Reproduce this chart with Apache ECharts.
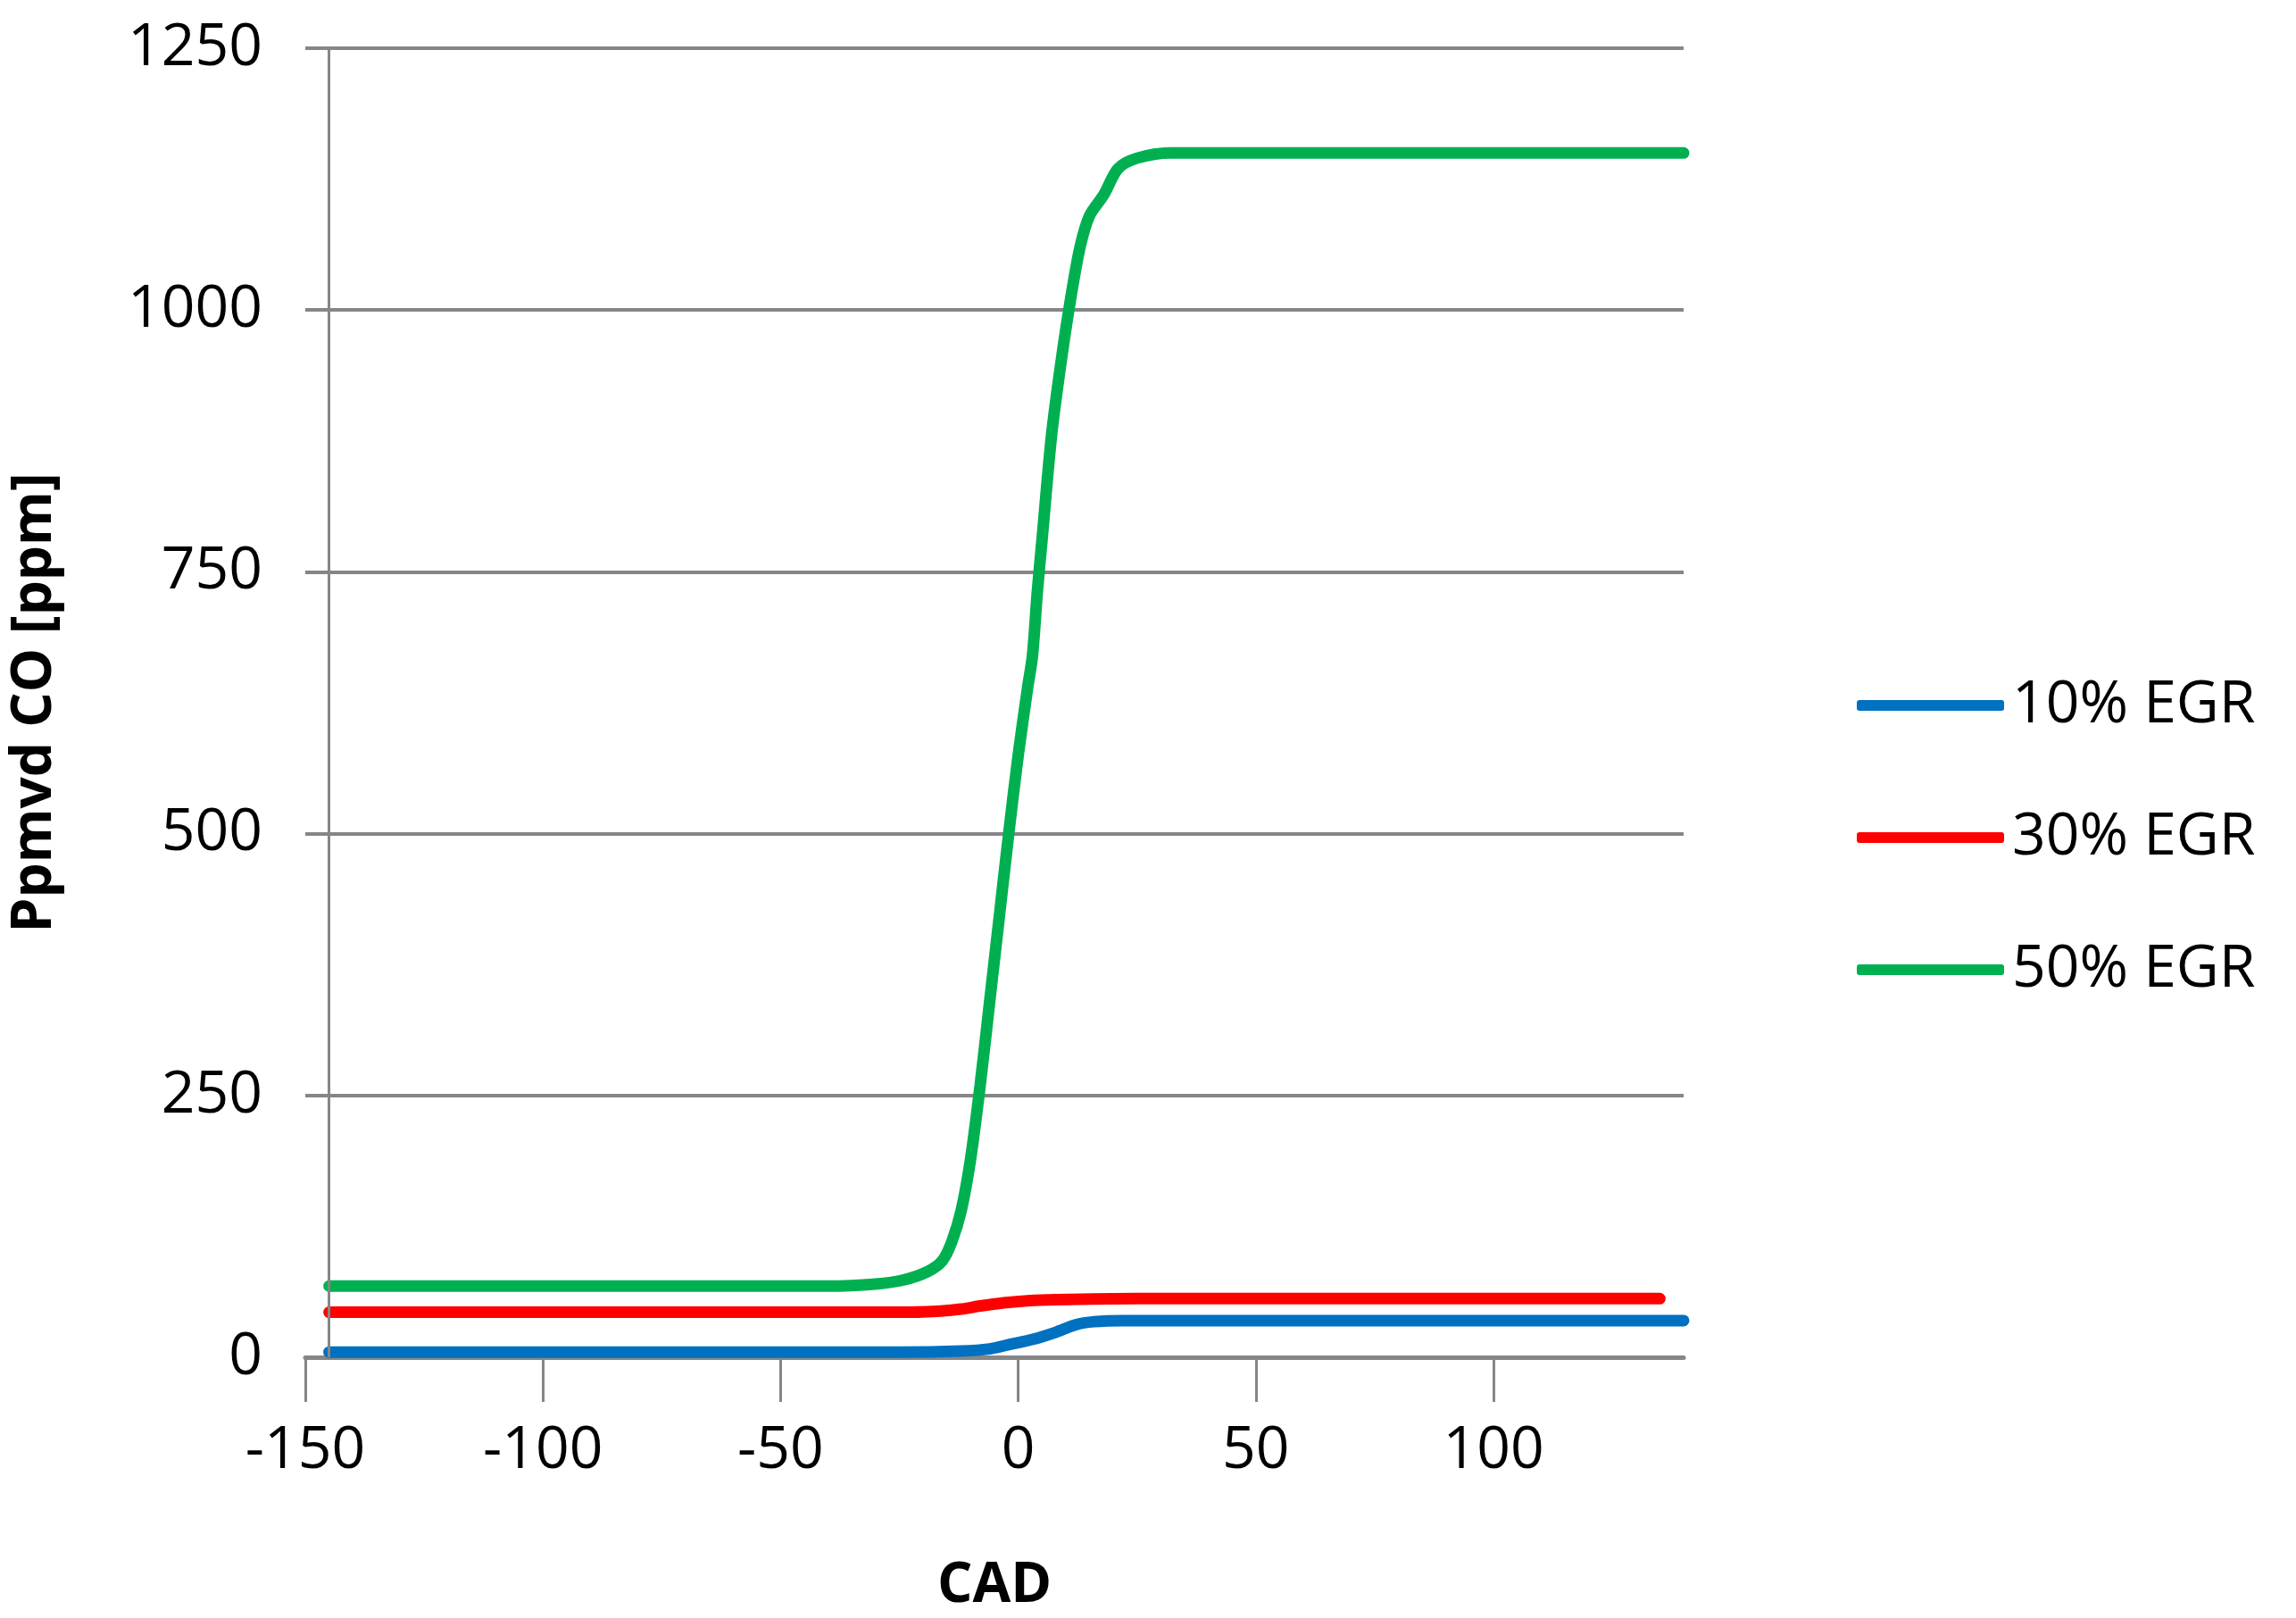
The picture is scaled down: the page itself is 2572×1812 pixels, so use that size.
<!DOCTYPE html>
<html>
<head>
<meta charset="utf-8">
<script src="https://cdn.jsdelivr.net/npm/echarts@6/dist/echarts.min.js"></script>
<style>
  html, body { margin: 0; padding: 0; background: #fff; }
  #chart { width: 2572px; height: 1812px; }
</style>
</head>
<body>
<div id="chart"></div>
<script>
// 数据
var seriesNames = ['10% EGR', '30% EGR', '50% EGR'];
var colors = ['#0070c0', '#ff0000', '#00b050'];
var blueData = [[-145, 5], [-60, 5], [-25, 5], [-12, 6], [-6, 8], [-2, 12], [3, 17], [8, 24], [12, 31], [16, 34], [22, 35], [60, 35], [140, 35]];
var redData = [[-145, 43], [-60, 43], [-25, 43], [-17, 44], [-12, 46], [-8, 49], [-3, 52], [2, 54], [8, 55], [25, 56], [80, 56], [135, 56]];
var greenData = [[-145, 68], [-80, 68], [-40, 68], [-30, 70], [-24, 74], [-19, 82], [-16, 92], [-14, 110], [-12, 140], [-10, 190], [-8, 260], [-6, 340], [-4, 420], [-2, 500], [0, 575], [2, 640], [3, 670], [4, 730], [5, 780], [7, 880], [9, 950], [11, 1010], [13, 1060], [15, 1090], [18, 1110], [21, 1135], [25, 1145], [32, 1150], [60, 1150], [140, 1150]];

(function () {
  var myChart = echarts.init(document.getElementById('chart'));
  var font = 'Open Sans';
  var gray = '#868686';
  var allData = [blueData, redData, greenData];
  var series = allData.map(function (d, i) {
    return {
      name: seriesNames[i],
      type: 'line',
      data: d,
      smooth: 0.3,
      showSymbol: false,
      lineStyle: { width: 13, color: colors[i], cap: 'round' },
      itemStyle: { color: colors[i] }
    };
  });
  // 纵轴竖线 (x = -145)
  series[0].markLine = {
    silent: true,
    symbol: 'none',
    label: { show: false },
    lineStyle: { color: gray, width: 3, type: 'solid' },
    data: [[{ coord: [-145, 0] }, { coord: [-145, 1250] }]]
  };
  series[0].z = 3;

  var option = {
    animation: false,
    backgroundColor: '#fff',
    grid: { left: 329, right: 686, top: 54, bottom: 275 },
    legend: {
      orient: 'vertical',
      left: 2075,
      top: 752,
      itemWidth: 165,
      itemHeight: 12,
      itemGap: 82,
      icon: 'roundRect',
      textStyle: { fontFamily: font, fontSize: 66, color: '#000', padding: [0, 0, 0, 4] },
      data: seriesNames
    },
    xAxis: {
      type: 'value',
      min: -150,
      max: 140,
      interval: 50,
      name: 'CAD',
      nameLocation: 'middle',
      nameGap: 225,
      nameTextStyle: { fontFamily: font, fontSize: 62, fontWeight: 'bold', color: '#000' },
      axisLine: { lineStyle: { color: gray, width: 5 } },
      axisTick: {
        show: true,
        length: 50,
        inside: false,
        lineStyle: { color: gray, width: 3 },
        interval: function (idx, v) { return v % 50 === 0; }
      },
      axisLabel: {
        margin: 72,
        fontFamily: font,
        fontSize: 66,
        color: '#000',
        showMaxLabel: false,
        formatter: function (v) { return v % 50 === 0 ? String(v) : ''; }
      },
      splitLine: { show: false }
    },
    yAxis: {
      type: 'value',
      min: 0,
      max: 1250,
      interval: 250,
      name: 'Ppmvd CO [ppm]',
      nameLocation: 'middle',
      nameGap: 272,
      nameTextStyle: { fontFamily: font, fontSize: 62, fontWeight: 'bold', color: '#000' },
      axisLine: { show: false },
      axisTick: { show: false },
      axisLabel: {
        margin: 48, fontFamily: font, fontSize: 66, color: '#000',
        formatter: function (v) { return String(v); }
      },
      splitLine: { lineStyle: { color: gray, width: 4 } }
    },
    series: series
  };

  myChart.setOption(option);
  window.addEventListener('resize', function () {
    myChart.resize();
  });
})();
</script>
</body>
</html>
